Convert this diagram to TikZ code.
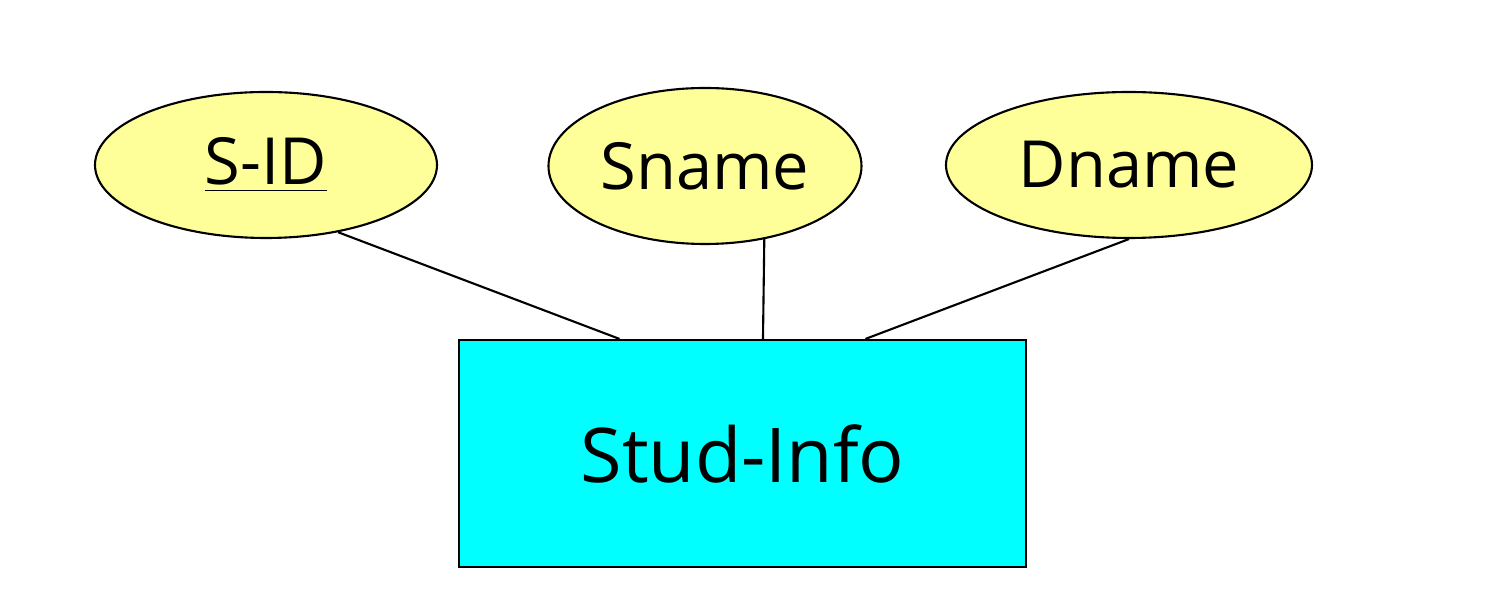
\documentclass[tikz,border=0pt]{standalone}
\usepackage{fontspec}
\setmainfont{Open Sans}
\usetikzlibrary{shapes.geometric,calc}
\definecolor{attrfill}{HTML}{FFFF99}
\definecolor{entfill}{HTML}{00FFFF}
\tikzset{
  attr/.style={ellipse,draw,line width=0.6pt,fill=attrfill,inner sep=0pt,
    font=\fontsize{18.5}{22}\selectfont},
  entity/.style={rectangle,draw,line width=0.6pt,fill=entfill,
    minimum width=5.67cm,minimum height=2.27cm,font=\fontsize{21.5}{26}\selectfont},
  link/.style={line width=0.6pt}
}
\begin{document}
\begin{tikzpicture}
  \useasboundingbox (0,0) rectangle (15.03,6.12);
  \node[attr,minimum width=3.42cm,minimum height=1.46cm] (sid) at (2.66,4.47) {\underline{S-ID}};
  \node[attr,minimum width=3.13cm,minimum height=1.56cm] (sname) at (7.05,4.46) {Sname};
  \node[attr,minimum width=3.66cm,minimum height=1.46cm] (dname) at (11.29,4.47) {Dname};
  \node[entity] (info) at (7.425,1.585) {Stud-Info};

  \draw[link] (sid.-43) -- ($(info.north west)!0.284!(info.north east)$);
  \draw[link] (sname.-51) -- ($(info.north west)!0.536!(info.north east)$);
  \draw[link] (dname.south) -- ($(info.north west)!0.716!(info.north east)$);
\end{tikzpicture}
\end{document}
